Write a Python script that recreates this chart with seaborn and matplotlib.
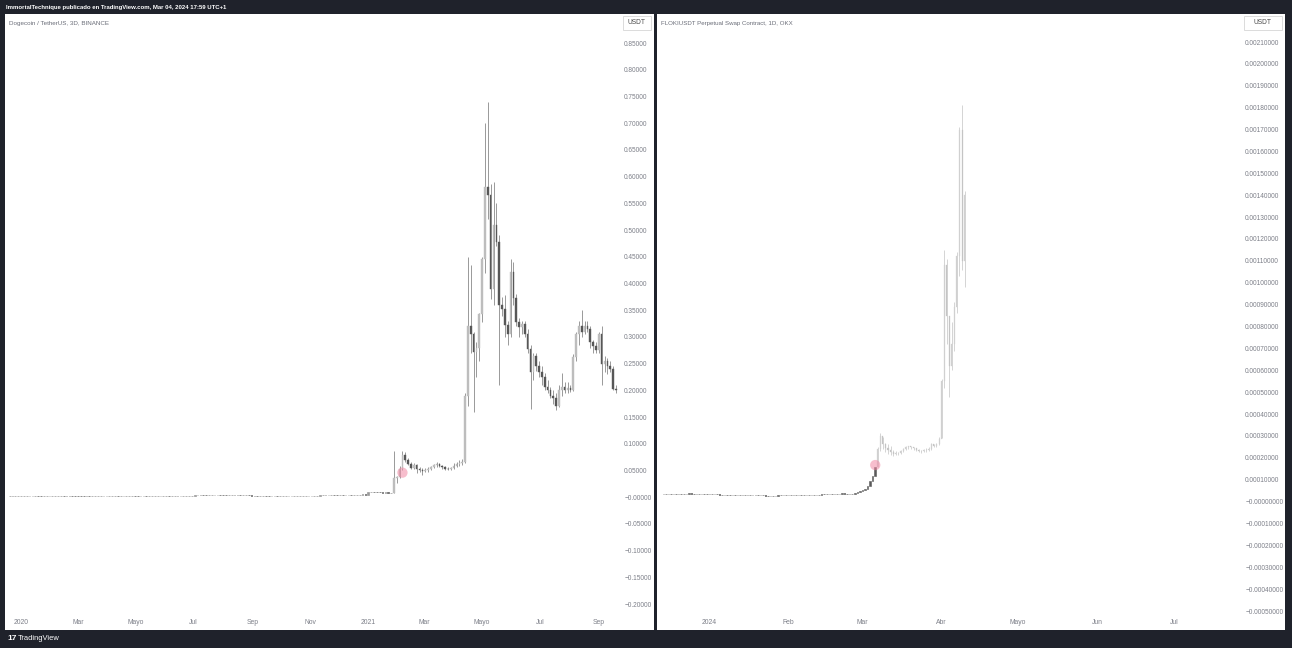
import numpy as np
import pandas as pd
import matplotlib
matplotlib.use("Agg")
import matplotlib.pyplot as plt
import matplotlib.dates as mdates
import matplotlib.ticker as mticker
from matplotlib.patches import Rectangle
import seaborn as sns

# ---- DOGE / USDT, 3D candles (Binance) ----
doge_start = "2019-12-20"
# quiet 2019-2020 stretch, closes only (candles are a flat line at this scale)
doge_flat_close = [
    0.0021, 0.0020, 0.0020, 0.0020,
    0.0020, 0.0021, 0.0022, 0.0023, 0.0024, 0.0024, 0.0023, 0.0022, 0.0023, 0.0024,
    0.0025, 0.0026, 0.0027, 0.0029, 0.0031, 0.0030, 0.0027, 0.0026, 0.0025, 0.0023,
    0.0022, 0.0021, 0.0019, 0.0016, 0.0015, 0.0016, 0.0017, 0.0018, 0.0018, 0.0018,
    0.0019, 0.0019, 0.0020, 0.0020, 0.0019, 0.0020, 0.0021, 0.0022, 0.0025, 0.0026,
    0.0025, 0.0024, 0.0025, 0.0025, 0.0024, 0.0025, 0.0025, 0.0025, 0.0026, 0.0026,
    0.0026, 0.0026, 0.0025, 0.0025, 0.0025, 0.0024, 0.0024, 0.0024, 0.0024, 0.0024,
    0.0024, 0.0033, 0.0037, 0.0034, 0.0033, 0.0032, 0.0032, 0.0033, 0.0035, 0.0036,
    0.0035, 0.0034, 0.0033, 0.0035, 0.0036, 0.0035, 0.0034, 0.0033, 0.0033, 0.0034,
    0.0033, 0.0031, 0.0028, 0.0027, 0.0027, 0.0028, 0.0027, 0.0026, 0.0026, 0.0026,
    0.0025, 0.0025, 0.0025, 0.0026, 0.0026, 0.0026, 0.0026, 0.0026, 0.0026, 0.0026,
    0.0026, 0.0026, 0.0027, 0.0028, 0.0030, 0.0033, 0.0035, 0.0034, 0.0035, 0.0036,
    0.0034, 0.0033, 0.0034, 0.0033, 0.0036, 0.0037, 0.0035, 0.0040, 0.0046, 0.0047, 0.0050, 0.0047,
    0.0092, 0.0100, 0.0097, 0.0095, 0.0090, 0.0087, 0.0088, 0.0086, 0.0086,
]
# from the Jan 2021 pump onwards
doge_high = [
    0.087, 0.040, 0.058, 0.087, 0.084, 0.074, 0.066, 0.064, 0.062, 0.056,
    0.054, 0.054, 0.056, 0.058, 0.062, 0.066, 0.064, 0.060, 0.058, 0.056,
    0.056, 0.064, 0.066, 0.070, 0.072, 0.195, 0.450, 0.434, 0.310, 0.290,
    0.345, 0.450, 0.700, 0.740, 0.587, 0.590, 0.550, 0.490, 0.375, 0.378,
    0.330, 0.446, 0.440, 0.380, 0.335, 0.330, 0.330, 0.315, 0.285, 0.270,
    0.270, 0.255, 0.245, 0.232, 0.220, 0.207, 0.200, 0.195, 0.210, 0.232,
    0.215, 0.215, 0.210, 0.268, 0.310, 0.330, 0.350, 0.330, 0.330, 0.320,
    0.295, 0.290, 0.310, 0.320, 0.265, 0.260, 0.255, 0.245, 0.210,
]
doge_low = [
    0.0084, 0.026, 0.035, 0.050, 0.066, 0.060, 0.052, 0.053, 0.045, 0.047,
    0.041, 0.047, 0.048, 0.050, 0.054, 0.057, 0.056, 0.053, 0.051, 0.050,
    0.050, 0.053, 0.056, 0.058, 0.060, 0.064, 0.170, 0.270, 0.160, 0.225,
    0.255, 0.328, 0.420, 0.520, 0.370, 0.360, 0.470, 0.210, 0.340, 0.300,
    0.284, 0.300, 0.360, 0.320, 0.300, 0.305, 0.300, 0.270, 0.165, 0.220,
    0.236, 0.225, 0.210, 0.200, 0.195, 0.185, 0.175, 0.163, 0.168, 0.190,
    0.195, 0.195, 0.196, 0.198, 0.255, 0.285, 0.300, 0.305, 0.310, 0.280,
    0.270, 0.270, 0.270, 0.210, 0.235, 0.230, 0.235, 0.200, 0.195,
]
doge_close = [
    0.035, 0.037, 0.052, 0.078, 0.070, 0.063, 0.055, 0.060, 0.052, 0.050,
    0.049, 0.051, 0.053, 0.057, 0.060, 0.062, 0.058, 0.056, 0.053, 0.052,
    0.054, 0.058, 0.062, 0.064, 0.066, 0.190, 0.320, 0.306, 0.272, 0.280,
    0.343, 0.446, 0.580, 0.565, 0.390, 0.510, 0.478, 0.360, 0.353, 0.322,
    0.305, 0.422, 0.372, 0.328, 0.318, 0.325, 0.306, 0.278, 0.234, 0.265,
    0.245, 0.235, 0.225, 0.207, 0.200, 0.190, 0.185, 0.170, 0.200, 0.207,
    0.200, 0.205, 0.200, 0.262, 0.305, 0.320, 0.310, 0.320, 0.315, 0.290,
    0.282, 0.276, 0.305, 0.250, 0.255, 0.245, 0.240, 0.203, 0.200,
]
doge_marker = ("2021-02-06", 0.0459)
doge_tick_dates = ["2020-01-01", "2020-03-01", "2020-05-01", "2020-07-01", "2020-09-01", "2020-11-01",
                   "2021-01-01", "2021-03-01", "2021-05-01", "2021-07-01", "2021-09-01"]
doge_tick_labels = ["2020", "Mar", "Mayo", "Jul", "Sep", "Nov", "2021", "Mar", "Mayo", "Jul", "Sep"]

# ---- FLOKI / USDT perpetual, 1D (OKX) ----
floki_start = "2023-12-14"
floki_close = [
    0.000034, 0.000034, 0.000036, 0.000035, 0.000036, 0.000035, 0.000034, 0.000033, 0.000034, 0.000036,
    0.000038, 0.000036, 0.000035, 0.000034, 0.000035, 0.000036, 0.000035, 0.000034, 0.000033, 0.000034,
    0.000035, 0.000033, 0.000029, 0.000031, 0.000031, 0.000030, 0.000029, 0.000031, 0.000030, 0.000031,
    0.000032, 0.000030, 0.000030, 0.000029, 0.000029, 0.000030, 0.000029, 0.000028, 0.000028, 0.000028,
    0.000027, 0.000026, 0.000026, 0.000027, 0.000027, 0.000028, 0.000029, 0.000029, 0.000029, 0.000030,
    0.000030,
    0.000029, 0.000030, 0.000030, 0.000029, 0.000029, 0.000029, 0.000030, 0.000031, 0.000031, 0.000032,
    0.000032, 0.000034, 0.000033, 0.000035, 0.000036, 0.000035, 0.000034, 0.000035, 0.000035, 0.000038,
    0.000036, 0.000035, 0.000034, 0.000036, 0.000038, 0.000042, 0.000048, 0.000052, 0.000058,
    0.000070, 0.000092, 0.000118, 0.000160,
]
# bars-pattern projection drawn after the last real candle
proj_high = [
    0.000250, 0.000313, 0.000295, 0.000270, 0.000262, 0.000252, 0.000238, 0.000230, 0.000228, 0.000236,
    0.000244, 0.000252, 0.000256, 0.000255, 0.000250, 0.000246, 0.000240, 0.000236, 0.000242, 0.000244,
    0.000248, 0.000266, 0.000264, 0.000270, 0.000295, 0.000560, 0.001150, 0.001110, 0.000830, 0.000820,
    0.000910, 0.001140, 0.001710, 0.001810, 0.001420,
]
proj_low = [
    0.000160, 0.000230, 0.000240, 0.000225, 0.000218, 0.000215, 0.000210, 0.000212, 0.000214, 0.000218,
    0.000226, 0.000234, 0.000240, 0.000240, 0.000236, 0.000230, 0.000226, 0.000224, 0.000226, 0.000228,
    0.000230, 0.000236, 0.000248, 0.000250, 0.000258, 0.000290, 0.000520, 0.000720, 0.000480, 0.000600,
    0.000690, 0.000860, 0.001030, 0.001060, 0.000980,
]
proj_close = [
    0.000240, 0.000300, 0.000262, 0.000245, 0.000235, 0.000228, 0.000218, 0.000220, 0.000222, 0.000232,
    0.000240, 0.000248, 0.000252, 0.000248, 0.000244, 0.000238, 0.000233, 0.000230, 0.000236, 0.000234,
    0.000240, 0.000262, 0.000255, 0.000265, 0.000285, 0.000550, 0.001080, 0.000850, 0.000620, 0.000720,
    0.000890, 0.001120, 0.001700, 0.001100, 0.001400,
]
floki_marker = ("2024-03-06", 0.000167)
floki_tick_dates = ["2024-01-01", "2024-02-01", "2024-03-01", "2024-04-01", "2024-05-01", "2024-06-01", "2024-07-01"]
floki_tick_labels = ["2024", "Feb", "Mar", "Abr", "Mayo", "Jun", "Jul"]

BG = "#1f222b"
LABEL = "#7c7f88"

sns.set_style("white")
plt.rcParams["font.family"] = ["Liberation Sans", "DejaVu Sans"]


def candles(ax, dates, opens, highs, lows, closes, width, up_col, down_col, wick_col, wicks=True, edge=0.5):
    opens, highs, lows, closes = map(np.asarray, (opens, highs, lows, closes))
    if wicks:
        ax.vlines(dates, lows, highs, color=wick_col, lw=0.7, zorder=2)
    up = closes >= opens
    for mask, col in ((up, up_col), (~up, down_col)):
        ax.bar(dates[mask], (closes - opens)[mask], bottom=opens[mask], width=width,
               color=col, edgecolor=col, linewidth=edge, zorder=3)


fig = plt.figure(figsize=(12.92, 6.48), dpi=100, facecolor=BG)
W, H = 1292, 648


def box(x0, y0, x1, y1):
    # pixel box (top-left origin) -> figure fraction [l, b, w, h]
    return [x0 / W, 1 - y1 / H, (x1 - x0) / W, (y1 - y0) / H]


for x0, x1 in ((5, 654), (657, 1285)):
    l, b, w, h = box(x0, 14, x1, 630)
    fig.patches.append(Rectangle((l, b), w, h, transform=fig.transFigure, facecolor="white",
                                 edgecolor="none", zorder=-5))

fig.text(6 / W, 1 - 7 / H, "ImmortalTechnique publicado en TradingView.com, Mar 04, 2024 17:59 UTC+1",
         color="white", fontsize=4.3, fontweight="bold", va="center", ha="left")
fig.text(7 / W, 1 - 638.5 / H, "17", color="white", fontsize=6, fontweight="bold", va="center", ha="left")
fig.text(18 / W, 1 - 638.5 / H, "TradingView", color="white", fontsize=5.4, va="center", ha="left")

# ---- left panel ----
ax1 = fig.add_axes(box(5, 14, 620, 613))
flat_idx = pd.date_range(doge_start, periods=len(doge_flat_close), freq="3D")
flat_dates = mdates.date2num(flat_idx)
flat_close = np.array(doge_flat_close)
flat_open = np.r_[flat_close[0], flat_close[:-1]]
candles(ax1, flat_dates, flat_open, flat_open, flat_open, flat_close, 1.8,
        "#9a9a9a", "#606060", "#8c8c8c", wicks=False)
d_idx = pd.date_range(flat_idx[-1] + pd.Timedelta(days=3), periods=len(doge_close), freq="3D")
d_dates = mdates.date2num(d_idx)
d_close = np.array(doge_close)
d_open = np.r_[flat_close[-1], d_close[:-1]]
candles(ax1, d_dates, d_open, doge_high, doge_low, d_close, 1.7, "#bdbdbd", "#575757", "#999999", edge=0.3)
ax1.scatter(mdates.datestr2num(doge_marker[0]), doge_marker[1], s=55, color="#f28aa5", alpha=0.55,
            edgecolor="none", zorder=4)

d0 = mdates.datestr2num("2020-01-01")
ax1.set_xlim(d0 - 16.9, d0 + 631.3)
ax1.set_ylim(-0.2168, 0.9043)
ax1.yaxis.set_major_locator(mticker.FixedLocator(np.arange(-20, 86, 5) / 100))
ax1.yaxis.set_major_formatter(mticker.FuncFormatter(
    lambda v, _: "\u22120.00000" if abs(v) < 1e-9 else f"{v:.5f}".replace("-", "\u2212")))
ax1.set_xticks(mdates.datestr2num(doge_tick_dates))
ax1.set_xticklabels(doge_tick_labels)
ax1.text(0.006, 0.988, "Dogecoin / TetherUS, 3D, BINANCE", transform=ax1.transAxes,
         fontsize=4.5, color="#6a6d78", va="top", ha="left")

# ---- right panel ----
ax2 = fig.add_axes(box(657, 14, 1241, 613))
f_dates = pd.date_range(floki_start, periods=len(floki_close), freq="D")
f_close = np.array(floki_close)
f_open = np.r_[f_close[0], f_close[:-1]]
f_num = mdates.date2num(f_dates)
candles(ax2, f_num, f_open, np.maximum(f_open, f_close), np.minimum(f_open, f_close), f_close, 0.6,
        "#5a5a5a", "#3c3c3c", "#5a5a5a", wicks=False, edge=0.4)
p_num = mdates.date2num(pd.date_range(f_dates[-1] + pd.Timedelta(days=1), periods=len(proj_close), freq="D"))
p_close = np.array(proj_close)
p_open = np.r_[f_close[-1], p_close[:-1]]
candles(ax2, p_num, p_open, proj_high, proj_low, p_close, 0.4, "#d0d0d0", "#c4c4c4", "#d4d4d4", edge=0.2)
ax2.scatter(mdates.datestr2num(floki_marker[0]), floki_marker[1], s=55, color="#f28aa5", alpha=0.55,
            edgecolor="none", zorder=4)

a0 = mdates.datestr2num("2024-04-01")
ax2.set_xlim(a0 - 111.5, a0 + 117.3)
ax2.set_ylim(-0.000509, 0.002228)
ax2.yaxis.set_major_locator(mticker.FixedLocator(np.arange(-5, 22, 1) / 10000))
ax2.yaxis.set_major_formatter(mticker.FuncFormatter(
    lambda v, _: "\u22120.00000000" if abs(v) < 1e-12 else f"{v:.8f}".replace("-", "\u2212")))
ax2.set_xticks(mdates.datestr2num(floki_tick_dates))
ax2.set_xticklabels(floki_tick_labels)
ax2.text(0.006, 0.988, "FLOKIUSDT Perpetual Swap Contract, 1D, OKX", transform=ax2.transAxes,
         fontsize=4.4, color="#6a6d78", va="top", ha="left")

for ax in (ax1, ax2):
    ax.set_facecolor("white")
    sns.despine(ax=ax, left=True, bottom=True, right=True, top=True)
    ax.yaxis.tick_right()
    ax.tick_params(axis="y", length=0, pad=3.0, labelsize=4.7, labelcolor=LABEL)
    ax.tick_params(axis="x", length=0, pad=4.5, labelsize=4.9, labelcolor=LABEL)
    ax.grid(False)

# USDT boxes on the price scales
for x0, x1 in ((623, 651), (1244, 1282)):
    l, b, w, h = box(x0, 16, x1, 30)
    fig.patches.append(Rectangle((l, b), w, h, transform=fig.transFigure, facecolor="white",
                                 edgecolor="#d6d6d6", linewidth=0.6, zorder=5))
    fig.text(l + w / 2, b + h / 2, "USDT", color="#4a4a4a", fontsize=4.8, ha="center", va="center", zorder=6)

fig.savefig("out.png", dpi=100, facecolor=BG)
